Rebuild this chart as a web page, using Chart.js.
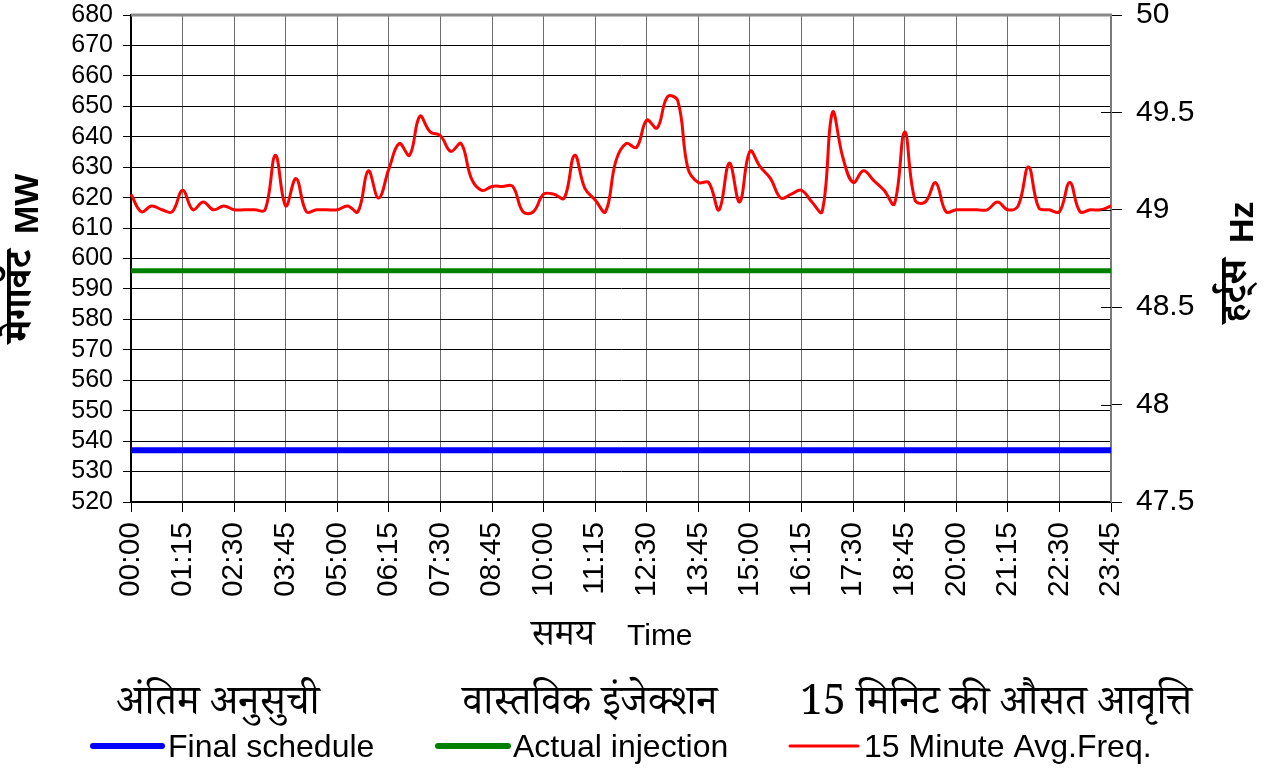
<!DOCTYPE html>
<html><head><meta charset="utf-8">
<script src="https://cdn.jsdelivr.net/npm/chart.js@4/dist/chart.umd.min.js"></script>
<style>html,body{margin:0;padding:0;background:#fff}#wrap{width:1272px;height:769px}</style>
</head><body><div id="wrap"><canvas id="c" width="1272" height="769"></canvas></div>
<script>
const categories = ['00:00','00:15','00:30','00:45','01:00','01:15','01:30','01:45','02:00','02:15','02:30','02:45','03:00','03:15','03:30','03:45','04:00','04:15','04:30','04:45','05:00','05:15','05:30','05:45','06:00','06:15','06:30','06:45','07:00','07:15','07:30','07:45','08:00','08:15','08:30','08:45','09:00','09:15','09:30','09:45','10:00','10:15','10:30','10:45','11:00','11:15','11:30','11:45','12:00','12:15','12:30','12:45','13:00','13:15','13:30','13:45','14:00','14:15','14:30','14:45','15:00','15:15','15:30','15:45','16:00','16:15','16:30','16:45','17:00','17:15','17:30','17:45','18:00','18:15','18:30','18:45','19:00','19:15','19:30','19:45','20:00','20:15','20:30','20:45','21:00','21:15','21:30','21:45','22:00','22:15','22:30','22:45','23:00','23:15','23:30','23:45'];

const finalSchedule = [537,537,537,537,537,537,537,537,537,537,537,537,537,537,537,537,537,537,537,537,537,537,537,537,537,537,537,537,537,537,537,537,537,537,537,537,537,537,537,537,537,537,537,537,537,537,537,537,537,537,537,537,537,537,537,537,537,537,537,537,537,537,537,537,537,537,537,537,537,537,537,537,537,537,537,537,537,537,537,537,537,537,537,537,537,537,537,537,537,537,537,537,537,537,537,537];

const actualInjection = [596,596,596,596,596,596,596,596,596,596,596,596,596,596,596,596,596,596,596,596,596,596,596,596,596,596,596,596,596,596,596,596,596,596,596,596,596,596,596,596,596,596,596,596,596,596,596,596,596,596,596,596,596,596,596,596,596,596,596,596,596,596,596,596,596,596,596,596,596,596,596,596,596,596,596,596,596,596,596,596,596,596,596,596,596,596,596,596,596,596,596,596,596,596,596,596];

const avgFrequency = [
 49.08,48.99,49.02,49.00,48.99,49.10,49.00,49.04,49.00,49.02,
 49.00,49.00,49.00,49.00,49.28,49.02,49.16,48.99,49.00,49.00,
 49.00,49.02,48.99,49.20,49.06,49.21,49.34,49.28,49.48,49.40,
 49.38,49.30,49.34,49.16,49.10,49.12,49.12,49.12,48.99,48.99,
 49.08,49.08,49.06,49.28,49.11,49.05,48.99,49.25,49.34,49.32,
 49.46,49.42,49.58,49.56,49.21,49.14,49.14,49.00,49.24,49.04,
 49.30,49.22,49.16,49.06,49.08,49.10,49.04,48.99,49.50,49.27,
 49.14,49.20,49.15,49.10,49.03,49.40,49.05,49.04,49.14,48.99,
 49.00,49.00,49.00,49.00,49.04,49.00,49.02,49.22,49.01,49.00,
 48.99,49.14,48.99,49.00,49.00,49.02];

const leftTickLabels = ['520','530','540','550','560','570','580','590','600','610','620','630','640','650','660','670','680'];
const rightTickLabels = ['47.5','48','48.5','49','49.5','50'];

const seriesNames = ['Final schedule','Actual injection','15 Minute Avg.Freq.'];
const seriesNamesHindi = ['अंतिम अनुसुची','वास्तविक इंजेक्शन','15 मिनिट की औसत आवृत्ति'];
const leftTitleHi = 'मेगावॅट', leftTitleEn = 'MW';
const rightTitleHi = 'हर्ट्स', rightTitleEn = 'Hz';
const xTitleHi = 'समय', xTitleEn = 'Time';

const FONT = '"Liberation Sans", Arial, "DejaVu Sans", sans-serif';
const HFONT = '"Noto Serif Devanagari","Noto Sans Devanagari","Lohit Devanagari","FreeSerif","Liberation Serif", serif';

function rotatedPair(c, cx, cy, hi, en) {
  c.save();
  c.translate(cx, cy);
  c.rotate(-Math.PI / 2);
  c.fillStyle = '#000';
  c.textBaseline = 'middle';
  c.font = 'bold 38px ' + HFONT;
  const wh = c.measureText(hi).width;
  c.font = 'bold 34px ' + FONT;
  const we = c.measureText(en).width;
  const gap = 16;
  const total = wh + gap + we;
  const x = -total / 2;
  c.textAlign = 'left';
  c.font = 'bold 38px ' + HFONT;
  c.fillText(hi, x, 0);
  c.font = 'bold 34px ' + FONT;
  c.fillText(en, x + wh + gap, 2);
  c.restore();
}

const extras = {
  id: 'extras',
  afterDraw(chart) {
    const c = chart.ctx, a = chart.chartArea;
    const y1 = chart.scales.y1;
    c.save();
    c.strokeStyle = '#000'; c.lineWidth = 1;
    y1.ticks.forEach(t => {
      const py = Math.round(y1.getPixelForValue(t.value)) + 0.5;
      c.beginPath(); c.moveTo(a.right - 10, py); c.lineTo(a.right, py); c.stroke();
    });
    c.strokeStyle = '#8a8a8a'; c.lineWidth = 3;
    c.beginPath(); c.moveTo(a.left, a.top); c.lineTo(a.right + 1, a.top); c.stroke();
    c.restore();

    rotatedPair(c, 27, 258, leftTitleHi, leftTitleEn);
    rotatedPair(c, 1242, 262, rightTitleHi, rightTitleEn);

    c.save();
    c.fillStyle = '#000'; c.textBaseline = 'alphabetic';
    c.textAlign = 'center';
    c.font = '36px ' + HFONT;
    c.fillText(xTitleHi, 563, 645);
    c.textAlign = 'left';
    c.font = '30px ' + FONT;
    c.fillText(xTitleEn, 627, 645);
    c.restore();

    const items = [
      {color:'#0000ff', w:6, x0:93, x1:162, tx:168, hx:218},
      {color:'#008000', w:6, x0:438, x1:508, tx:513, hx:590},
      {color:'#ff0000', w:3, x0:790, x1:858, tx:864, hx:996}
    ];
    c.save();
    items.forEach((it, i) => {
      c.strokeStyle = it.color; c.lineWidth = it.w; c.lineCap = 'round';
      c.beginPath(); c.moveTo(it.x0, 746); c.lineTo(it.x1, 746); c.stroke();
      c.fillStyle = '#000';
      c.textAlign = 'left'; c.textBaseline = 'alphabetic';
      c.font = '32px ' + FONT;
      c.fillText(seriesNames[i], it.tx, 757);
      c.textAlign = 'center';
      c.font = '41px ' + HFONT;
      c.fillText(seriesNamesHindi[i], it.hx, 714);
    });
    c.restore();
  }
};

const ctx = document.getElementById('c').getContext('2d');
new Chart(ctx, {
  type: 'line',
  data: {
    labels: categories,
    datasets: [
      {label: seriesNames[0], data: finalSchedule, yAxisID: 'y', borderColor: '#0000ff', backgroundColor: '#0000ff', borderWidth: 6, pointRadius: 0, tension: 0, order: 3},
      {label: seriesNames[1], data: actualInjection, yAxisID: 'y', borderColor: '#008000', backgroundColor: '#008000', borderWidth: 5, pointRadius: 0, tension: 0, order: 2},
      {label: seriesNames[2], data: avgFrequency, yAxisID: 'y1', borderColor: '#ff0000', backgroundColor: '#ff0000', borderWidth: 3, pointRadius: 0, tension: 0.4, order: 1}
    ]
  },
  options: {
    responsive: false,
    animation: false,
    layout: {padding: {top: 15, bottom: 109, left: 0, right: 0}},
    plugins: {legend: {display: false}, tooltip: {enabled: false}, title: {display: false}},
    scales: {
      x: {
        type: 'category',
        offset: false,
        grid: {
          color: c => (c.index % 5 === 0 ? '#6e6e6e' : 'rgba(0,0,0,0)'),
          lineWidth: 1,
          tickLength: 10,
          tickColor: c => (c.index % 5 === 0 ? '#000' : 'rgba(0,0,0,0)')
        },
        border: {color: '#000', width: 2},
        ticks: {
          autoSkip: false, minRotation: 90, maxRotation: 90, padding: 10,
          color: '#000', font: {family: FONT, size: 30},
          callback: (v, i) => (i % 5 === 0 ? categories[i] : '')
        },
        afterFit: s => { s.height = 158; s.paddingLeft = 0; s.paddingRight = 0; }
      },
      y: {
        position: 'left', min: 520, max: 680,
        grid: {color: '#000', lineWidth: 1, tickLength: 8},
        border: {color: '#000', width: 2},
        ticks: {stepSize: 10, autoSkip: false, padding: 10, color: '#000', font: {family: FONT, size: 25},
          callback: (v, i) => leftTickLabels[i]},
        afterFit: s => { s.width = 131; s.paddingTop = 0; s.paddingBottom = 0; }
      },
      y1: {
        position: 'right', min: 47.5, max: 50,
        grid: {drawOnChartArea: false, color: '#000', tickLength: 11},
        border: {color: '#7a7a7a', width: 2},
        ticks: {stepSize: 0.5, autoSkip: false, padding: 14, color: '#000', font: {family: FONT, size: 30},
          callback: (v, i) => rightTickLabels[i]},
        afterFit: s => { s.width = 161; s.paddingTop = 0; s.paddingBottom = 0; }
      }
    }
  },
  plugins: [extras]
});
</script>
</body></html>
